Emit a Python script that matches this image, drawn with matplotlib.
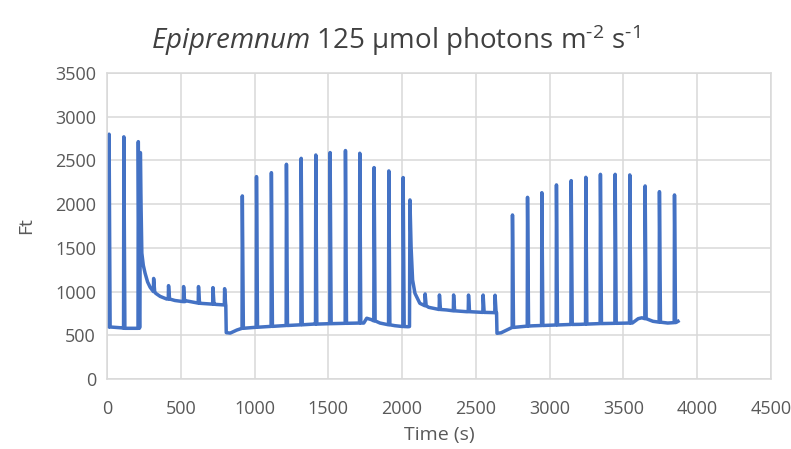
# Epipremnum chlorophyll fluorescence trace (Ft vs time)

import numpy as np
import matplotlib.pyplot as plt

plt.rcParams['font.family'] = ['Open Sans', 'DejaVu Sans']
plt.rcParams['mathtext.fontset'] = 'custom'
plt.rcParams['mathtext.rm'] = 'Open Sans'
plt.rcParams['mathtext.it'] = 'Open Sans:italic'

# Slow trace between saturating pulses (dark, light on, light off ...)
trace_t = [0, 100, 200, 223, 226, 231, 236, 246, 258, 275, 292, 330, 360, 404,
           460, 540, 630, 740, 805, 808, 835, 880, 910,
           1000, 1200, 1400, 1600, 1740, 1760, 1790, 1850, 1950, 2040, 2050,
           2053, 2061, 2071, 2087, 2120, 2180, 2210, 2300, 2437, 2580, 2640,
           2643, 2670, 2710, 2740,
           2880, 3000, 3200, 3400, 3560, 3600, 3625, 3700, 3800, 3860, 3870]
trace_ft = [610, 585, 580, 595, 2590, 1950, 1440, 1300, 1210, 1110, 1050, 980, 945, 915,
            898, 893, 866, 853, 845, 530, 525, 560, 578,
            590, 610, 628, 637, 640, 695, 680, 640, 610, 598, 600,
            2048, 1500, 1133, 980, 866, 820, 809, 790, 770, 761, 759,
            523, 528, 560, 585,
            608, 615, 625, 635, 640, 690, 700, 660, 640, 650, 660]

# Saturating pulses: time, peak value, trace level under the pulse
pulse_t = [12, 112, 210, 314, 415, 517, 618, 716, 795,
           915, 1011, 1112, 1214, 1314, 1413, 1510, 1614, 1711, 1808, 1908, 2005,
           2154, 2251, 2347, 2448, 2547, 2628,
           2746, 2848, 2945, 3044, 3144, 3243, 3342, 3442, 3541, 3645, 3742, 3844]
pulse_ft = [2800, 2770, 2715, 1150, 1068, 1057, 1057, 1045, 1033,
            2094, 2315, 2360, 2456, 2524, 2562, 2590, 2613, 2582, 2418, 2380, 2304,
            973, 961, 961, 960, 960, 958,
            1876, 2078, 2131, 2220, 2269, 2307, 2341, 2341, 2334, 2208, 2143, 2105]
pulse_base = [595, 580, 580, 1000, 915, 885, 868, 856, 847,
              580, 592, 602, 612, 620, 628, 633, 637, 640, 665, 620, 600,
              838, 795, 780, 770, 762, 759,
              590, 605, 612, 618, 624, 628, 634, 637, 640, 690, 650, 645]

# build one line: each pulse is a quick rise and fall on top of the trace
t_all = list(trace_t)
f_all = list(trace_ft)
for t, p, b in zip(pulse_t, pulse_ft, pulse_base):
    t_all += [t, t + 2, t + 9]
    f_all += [b, p, b]
t_all = np.array(t_all, dtype=float)
f_all = np.array(f_all, dtype=float)
order = np.argsort(t_all, kind='stable')

fig = plt.figure(figsize=(7.91, 4.49), dpi=100)
ax = fig.add_axes([0.1353, 0.1559, 0.8394, 0.6815])
ax.plot(t_all[order], f_all[order], color='#4472C4', linewidth=2.5,
        solid_joinstyle='round')

ax.set_xlim(0, 4500)
ax.set_ylim(0, 3500)
ax.set_xticks(np.arange(0, 4501, 500))
ax.set_yticks(np.arange(0, 3501, 500))
ax.grid(True, color='#D9D9D9', linewidth=1.1)
ax.set_axisbelow(True)
for s in ax.spines.values():
    s.set_color('#D9D9D9')
    s.set_linewidth(1.1)
ax.tick_params(length=0, labelsize=13, labelcolor='#595959')
ax.tick_params(axis='x', pad=15)
ax.tick_params(axis='y', pad=8)

ax.set_xlabel('Time (s)', fontsize=14, color='#595959', labelpad=6)
ax.set_ylabel('Ft', fontsize=14, color='#595959', labelpad=14)
fig.suptitle(r'$\mathit{Epipremnum}$ 125 µmol photons m$^{\text{-2}}$ s$^{\text{-1}}$',
             fontsize=20, color='#404040', x=0.5, y=0.91, va='center')

plt.savefig('out.png', dpi=100)
